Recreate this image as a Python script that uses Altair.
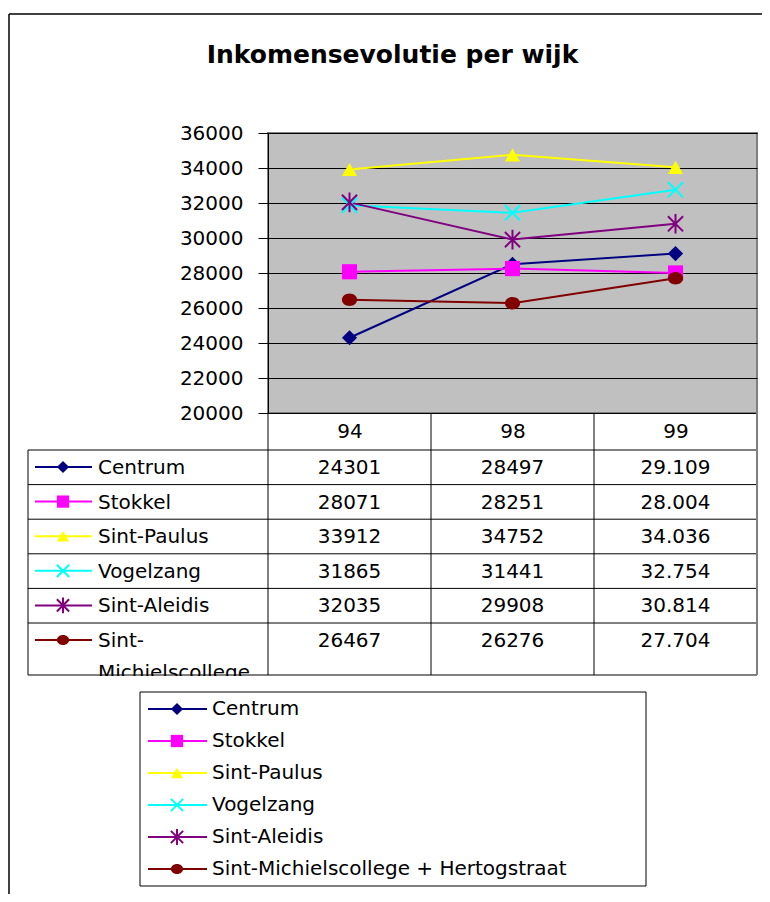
import altair as alt
import pandas as pd

# ---------------- data ----------------
title_text = "Inkomensevolutie per wijk"
years = ["94", "98", "99"]
series = ["Centrum", "Stokkel", "Sint-Paulus", "Vogelzang", "Sint-Aleidis",
          "Sint-Michielscollege + Hertogstraat"]
values_94 = [24301, 28071, 33912, 31865, 32035, 26467]
values_98 = [28497, 28251, 34752, 31441, 29908, 26276]
values_99 = [29109, 28004, 34036, 32754, 30814, 27704]
dot_separator_years = ["99"]          # the table shows 99-values as 29.109
y_ticks = list(range(20000, 36001, 2000))

# ---------------- style ----------------
colors = ["#000080", "#FF00FF", "#FFFF00", "#00FFFF", "#800080", "#800000"]
X_PATH = "M-1,-1L1,1M-1,1L1,-1"
STAR_PATH = "M-1,-1L1,1M-1,1L1,-1M0,-1.3L0,1.3"
ELLIPSE_PATH = "M-1,0A1,0.82,0,1,0,1,0A1,0.82,0,1,0,-1,0Z"
shapes = ["diamond", "square", "triangle-up", X_PATH, STAR_PATH, ELLIPSE_PATH]
filled = [True, True, True, False, False, True]

FONT = "DejaVu Sans"
FS = 20
W, H = 489, 280
STEP = W / len(years)
N = len(series)


def fmt(v, year):
    if year in dot_separator_years:
        return f"{v:,}".replace(",", ".")
    return str(v)


def wrap(name):
    if len(name) > 14 and "-" in name:
        a, b = name.split("-", 1)
        return a + "-\n" + b
    return name


recs = []
for r, (s, f) in enumerate(zip(series, filled)):
    for y, vals in zip(years, [values_94, values_98, values_99]):
        v = vals[r]
        recs.append({"series": s, "row": r, "year": y, "value": v,
                     "label": fmt(v, y), "filled": f})
df = pd.DataFrame(recs)
sdf = pd.DataFrame({"series": series, "row": list(range(N)),
                    "tlabel": [wrap(s) for s in series], "filled": filled})
ydf = pd.DataFrame({"year": years})
one = pd.DataFrame({"k": [0]})
tdf = pd.DataFrame({"title": [title_text]})

# ---------------- encodings ----------------
color = alt.Color("series:N", scale=alt.Scale(domain=series, range=colors), legend=None)
shape = alt.Shape("series:N", scale=alt.Scale(domain=series, range=shapes), legend=None)

x_year = alt.X(
    "year:N", sort=years,
    scale=alt.Scale(type="point", domain=years, padding=0.5),
    axis=alt.Axis(title=None, ticks=False, domain=True, domainColor="black",
                  domainWidth=1, labelFont=FONT, labelFontSize=FS,
                  labelColor="black", labelPadding=18, labelBaseline="middle",
                  labelAngle=0),
)
y_scale_main = alt.Scale(domain=[20000, 36000], nice=False, zero=False)
y_main = alt.Y(
    "value:Q", scale=y_scale_main,
    axis=alt.Axis(title=None, values=y_ticks, format="d", grid=True,
                  gridColor="black", gridWidth=1, gridOpacity=1,
                  domainColor="black", domainWidth=1, tickColor="black",
                  tickSize=10, tickWidth=1, labelPadding=15, labelFont=FONT,
                  labelFontSize=FS, labelColor="black"),
)
y_main_na = alt.Y("value:Q", scale=y_scale_main, axis=None)
y_table = alt.Y("row:Q", axis=None,
                scale=alt.Scale(domain=[0, N - 1], range=[317, 490], zero=False, nice=False))
y_legend = alt.Y("row:Q", axis=None,
                 scale=alt.Scale(domain=[0, N - 1], range=[576, 736], zero=False, nice=False))


def markers(data, x, y, size, yoff=0):
    base = alt.Chart(data)
    a = base.transform_filter("datum.filled").mark_point(
        filled=True, size=size, opacity=1, yOffset=yoff
    ).encode(x=x, y=y, color=color, shape=shape)
    b = base.transform_filter("!datum.filled").mark_point(
        filled=False, size=size, opacity=1, strokeWidth=2, yOffset=yoff
    ).encode(x=x, y=y, color=color, shape=shape)
    return [a, b]


layers = []

# chart frame (Excel chart area border)
layers.append(alt.Chart(one).mark_rule(color="black", strokeWidth=1.5).encode(
    x=alt.value(-259), x2=alt.value(494), y=alt.value(-119)))
layers.append(alt.Chart(one).mark_rule(color="black", strokeWidth=1.5).encode(
    x=alt.value(-259), y=alt.value(-119), y2=alt.value(761)))

# title
layers.append(alt.Chart(tdf).mark_text(font=FONT, fontSize=25, fontWeight="bold",
                                       color="black", align="center",
                                       baseline="alphabetic").encode(
    x=alt.value(124.5), y=alt.value(-70), text="title:N"))

# main plot
layers.append(alt.Chart(df).mark_line(strokeWidth=2).encode(x=x_year, y=y_main, color=color))
layers += markers(df, x_year, y_main_na, 230)

# table values
layers.append(alt.Chart(df).mark_text(font=FONT, fontSize=FS, baseline="top", align="center",
                                      color="black", yOffset=8).encode(
    x=x_year, y=y_table, text="label:N"))

# table row headers (legend keys + names)
layers.append(alt.Chart(sdf).mark_rule(strokeWidth=2, yOffset=17).encode(
    x=alt.value(-233), x2=alt.value(-176), y=y_table, color=color))
layers += markers(sdf, alt.value(-205), y_table, 150, 17)
layers.append(alt.Chart(sdf).mark_text(font=FONT, fontSize=FS, baseline="top", align="left",
                                       color="black", yOffset=8, lineBreak="\n",
                                       lineHeight=32, limit=166, ellipsis="\u200b").encode(
    x=alt.value(-170), y=y_table, text="tlabel:N"))
# clip the overflowing second line below the table
layers.append(alt.Chart(one).mark_rect(fill="white", stroke=None).encode(
    x=alt.value(-239), x2=alt.value(-1), y=alt.value(543), y2=alt.value(558)))

# table grid
layers.append(alt.Chart(sdf).mark_rule(color="black", strokeWidth=1).encode(
    x=alt.value(-240), x2=alt.value(489), y=y_table))
layers.append(alt.Chart(one).mark_rule(color="black", strokeWidth=1).encode(
    x=alt.value(-240), x2=alt.value(489), y=alt.value(542)))
layers.append(alt.Chart(one).mark_rule(color="black", strokeWidth=1).encode(
    x=alt.value(-240), y=alt.value(317), y2=alt.value(542)))
layers.append(alt.Chart(ydf).mark_rule(color="black", strokeWidth=1, xOffset=-STEP / 2).encode(
    x=x_year, y=alt.value(280), y2=alt.value(542)))
layers.append(alt.Chart(one).mark_rule(color="#808080", strokeWidth=2).encode(
    x=alt.value(489), y=alt.value(280), y2=alt.value(542)))

# bottom legend
layers.append(alt.Chart(one).mark_rect(fill="white", stroke="black", strokeWidth=1).encode(
    x=alt.value(-128), x2=alt.value(378), y=alt.value(559), y2=alt.value(753)))
layers.append(alt.Chart(sdf).mark_rule(strokeWidth=2).encode(
    x=alt.value(-120), x2=alt.value(-61), y=y_legend, color=color))
layers += markers(sdf, alt.value(-91), y_legend, 150)
layers.append(alt.Chart(sdf).mark_text(font=FONT, fontSize=FS, baseline="middle", align="left",
                                       color="black").encode(
    x=alt.value(-56), y=y_legend, text="series:N"))

chart = alt.layer(*layers).resolve_scale(y="independent").properties(
    width=W, height=H,
    background="white",
    padding={"left": 260, "top": 125, "right": 5, "bottom": 481},
    autosize=alt.AutoSizeParams(type="none"),
).configure_view(fill="#C0C0C0", stroke="#808080", strokeWidth=2)

chart.save("out.html", embed_options={"renderer": "svg", "actions": False})
